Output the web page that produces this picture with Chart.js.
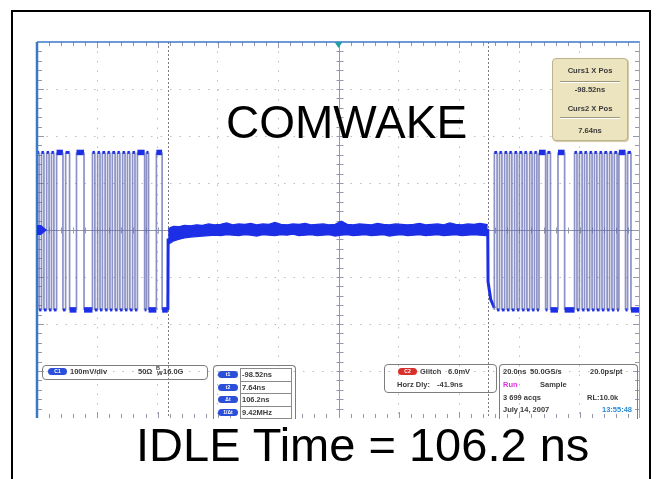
<!DOCTYPE html>
<html>
<head>
<meta charset="utf-8">
<title>COMWAKE</title>
<script src="https://cdn.jsdelivr.net/npm/chart.js@4/dist/chart.umd.min.js"></script>
<style>
  body { margin: 0; background: #fff; }
  #wrap { position: relative; width: 661px; height: 479px; overflow: hidden; font-family: "Liberation Sans", Arial, sans-serif; }
  #scope { position: absolute; left: 0; top: 0; }
  #frame { position: absolute; left: 11px; top: 10px; width: 636px; height: 520px; border: 2px solid #000; }
  .t { position: absolute; white-space: nowrap; font-size: 7.5px; font-weight: bold; line-height: 9px; color: #3a3a3a; }
  .box { position: absolute; border: 1px solid #7d7d7d; border-radius: 4px; }
  .open { border-bottom: none; border-radius: 4px 4px 0 0; }
  .pill { position: absolute; height: 7px; border-radius: 4px; background: #2b4fd8; color: #fff; font-size: 5px; font-weight: bold; line-height: 7px; text-align: center; }
  .cell { position: absolute; left: 240px; width: 52px; background: #fff; border: 1px solid #8a8a8a; box-sizing: border-box; }
  .big { position: absolute; white-space: nowrap; color: #000; line-height: 1; }
  #curs { position: absolute; left: 552px; top: 58px; width: 74px; height: 81px; background: #ece3bf; border: 1px solid #bcb38c; border-radius: 4px; box-shadow: 1px 1px 1px #d0c8a6; }
  #curs .t { left: 0; width: 74px; text-align: center; font-size: 7.6px; }
  .sep { position: absolute; left: 7px; width: 60px; height: 1px; background: #9d967a; border-bottom: 1px solid #fff; }
</style>
</head>
<body>
<div id="wrap">
  <canvas id="scope" width="661" height="479"></canvas>

  <div class="big" style="left:226px; top:99px; font-size:46px;">COMWAKE</div>

  <div id="curs">
    <div class="t" style="top:7px;">Curs1 X Pos</div>
    <div class="sep" style="top:22px;"></div>
    <div class="t" style="top:26px;">-98.52ns</div>
    <div class="t" style="top:45px;">Curs2 X Pos</div>
    <div class="sep" style="top:58px;"></div>
    <div class="t" style="top:67px;">7.64ns</div>
  </div>

  <!-- channel readout -->
  <div class="box" style="left:42px; top:365px; width:164px; height:13px;"></div>
  <div class="pill" style="left:48px; top:368px; width:19px;">C1</div>
  <div class="t" style="left:70px; top:367px;">100mV/div</div>
  <div class="t" style="left:138px; top:367px;">50Ω</div>
  <div class="t" style="left:156px; top:364px; font-size:5.5px;">B</div>
  <div class="t" style="left:157px; top:369px; font-size:6px;">W</div>
  <div class="t" style="left:163px; top:367px;">16.0G</div>

  <!-- cursor readout -->
  <div class="box open" style="left:213px; top:365px; width:81px; height:53px;"></div>
  <div class="cell" style="top:368px; height:14px;"></div>
  <div class="cell" style="top:381px; height:13px;"></div>
  <div class="cell" style="top:393px; height:14px;"></div>
  <div class="cell" style="top:406px; height:13px;"></div>
  <div class="pill" style="left:218px; top:371px; width:20px;">t1</div>
  <div class="pill" style="left:218px; top:384px; width:20px;">t2</div>
  <div class="pill" style="left:218px; top:396px; width:20px;">Δt</div>
  <div class="pill" style="left:218px; top:409px; width:20px;">1/Δt</div>
  <div class="t" style="left:242px; top:370px;">-98.52ns</div>
  <div class="t" style="left:242px; top:383px;">7.64ns</div>
  <div class="t" style="left:242px; top:395px;">106.2ns</div>
  <div class="t" style="left:242px; top:408px;">9.42MHz</div>

  <!-- trigger readout -->
  <div class="box" style="left:384px; top:364px; width:111px; height:27px;"></div>
  <div class="pill" style="left:398px; top:368px; width:19px; background:#d8302c;">C2</div>
  <div class="t" style="left:420px; top:367px;">Glitch</div>
  <div class="t" style="left:448px; top:367px;">6.0mV</div>
  <div class="t" style="left:397px; top:380px;">Horz Dly:</div>
  <div class="t" style="left:437px; top:380px;">-41.9ns</div>

  <!-- timebase readout -->
  <div class="box open" style="left:499px; top:364px; width:137px; height:54px;"></div>
  <div class="t" style="left:503px; top:367px;">20.0ns</div>
  <div class="t" style="left:530px; top:367px;">50.0GS/s</div>
  <div class="t" style="left:590px; top:367px;">20.0ps/pt</div>
  <div class="t" style="left:503px; top:380px; color:#e030e0;">Run</div>
  <div class="t" style="left:540px; top:380px;">Sample</div>
  <div class="t" style="left:503px; top:393px;">3 699 acqs</div>
  <div class="t" style="left:587px; top:393px;">RL:10.0k</div>
  <div class="t" style="left:503px; top:405px;">July 14, 2007</div>
  <div class="t" style="left:602px; top:405px; color:#2a8ad8;">13:55:48</div>

  <div class="big" style="left:136px; top:421px; font-size:47px;">IDLE Time = 106.2 ns</div>
  <div id="frame"></div>
</div>

<script>
// screen: 10 div x 20ns, 8 div x 100mV
var xDivisions = [-141.9, -121.9, -101.9, -81.9, -61.9, -41.9, -21.9, -1.9, 18.1, 38.1, 58.1];
var yDivisions = [-400, -300, -200, -100, 0, 100, 200, 300, 400];
var centerTime = -41.9;
var cursorTimes = [-98.52, 7.64];

// burst levels (mV)
var highLevel = 165;
var lowLevel = -170;

// left burst: starts high at screen edge, edges in ns
var leftStartLevel = 165;
var leftEdges = [-141.2, -140.4, -139.6, -138.7, -137.9, -137.1, -136.3, -135.4,
  -133.3, -132.4, -131.1, -128.8, -126.3,
  -123.5, -122.7, -121.8, -121.0, -120.2, -119.3, -118.5, -117.7, -116.9, -116.0,
  -115.2, -114.4, -113.5, -112.7, -111.9, -111.1, -110.2, -109.4, -108.6,
  -106.2, -105.6, -104.9, -102.3, -100.4];
var leftTailTimes = [-98.5, -98.4];
var leftTailLevels = [-170, -18];

// idle (electrical idle between bursts), noise band
var idleTimes = [-98.4, -97.5, -96.5, -95, -93, -91, -89, -87, -85, -83, -81, -79, -77, -75,
  -73, -71, -69, -67, -65, -63, -61, -59, -57, -55, -53, -51, -49, -47, -45, -43, -41, -39,
  -37, -35, -33, -31, -29, -27, -25, -23, -21, -19, -17, -15, -13, -11, -9, -7, -5, -3, -1,
  1, 3, 5, 7, 7.6];
var idleUpper = [2, 6, 8, 7, 10, 9, 11, 10, 13, 11, 12, 15, 11, 13, 12, 14, 11, 13, 12, 16,
  12, 11, 13, 12, 14, 11, 12, 13, 11, 12, 19, 12, 11, 13, 12, 11, 14, 12, 11, 13,
  12, 11, 12, 14, 11, 12, 13, 11, 15, 12, 11, 13, 12, 14, 12, 11];
var idleLower = [-30, -27, -23, -20, -17, -15, -14, -13, -12, -11, -12, -10, -11, -12, -10,
  -11, -13, -10, -11, -12, -10, -11, -9, -12, -11, -10, -12, -11, -10, -13, -11, -10, -12,
  -11, -10, -12, -11, -10, -13, -11, -10, -12, -11, -10, -12, -11, -10, -12, -11, -10,
  -12, -11, -10, -11, -12, -10];

// right burst: drop out of idle, then edges in ns
var rightLeadTimes = [7.6, 7.7, 8.6, 9.8];
var rightLeadLevels = [2, -110, -148, -166];
var rightEdges = [9.8, 10.7, 11.5, 12.3, 13.2, 14.0, 14.8, 15.6, 16.5, 17.3, 18.1, 19.0,
  19.8, 20.6, 21.5, 22.3, 23.1, 23.9, 24.6,
  26.8, 27.4, 28.4, 30.9, 33.1,
  36.4, 37.2, 38.0, 38.9, 39.7, 40.5, 41.4, 42.2, 43.0, 43.8, 44.7, 45.5, 46.3,
  47.2, 48.0, 48.8, 49.6, 50.5, 51.1,
  53.3, 54.0, 55.1];
var rightEnd = 58.1;

var traceBlue = '#1c2fe6';
var edgeColor = 'rgba(96,104,176,0.72)';

function buildSteps(pts, level, edges) {
  for (var i = 0; i < edges.length; i++) {
    var next = level > 0 ? lowLevel : highLevel;
    pts.push({x: edges[i], y: level});
    pts.push({x: edges[i], y: next});
    level = next;
  }
  return level;
}

var leftPts = [{x: xDivisions[0], y: leftStartLevel}];
buildSteps(leftPts, leftStartLevel, leftEdges);
for (var i = 0; i < leftTailTimes.length; i++) leftPts.push({x: leftTailTimes[i], y: leftTailLevels[i]});

var rightPts = [];
for (var i = 0; i < rightLeadTimes.length; i++) rightPts.push({x: rightLeadTimes[i], y: rightLeadLevels[i]});
var rv = buildSteps(rightPts, lowLevel, rightEdges);
rightPts.push({x: rightEnd, y: rv});

var upperPts = idleTimes.map(function(t, i) { return {x: t, y: idleUpper[i]}; });
var lowerPts = idleTimes.map(function(t, i) { return {x: t, y: idleLower[i]}; });

var burstSegment = {
  borderColor: function(c) { return c.p0.parsed.x === c.p1.parsed.x ? edgeColor : traceBlue; },
  borderWidth: function(c) {
    var dx = c.p1.parsed.x - c.p0.parsed.x;
    if (dx === 0) return 1.7;
    return dx > 1.5 ? 5.5 : 3;
  }
};

var scopeFrame = {
  id: 'scopeFrame',
  beforeDatasetsDraw: function(chart) {
    var ctx = chart.ctx, a = chart.chartArea, x = chart.scales.x, y = chart.scales.y;
    var cx = Math.round(x.getPixelForValue(centerTime)) + 0.5;
    var cy = Math.round(y.getPixelForValue(0)) + 0.5;
    ctx.save();
    ctx.strokeStyle = '#9498aa';
    ctx.lineWidth = 1;
    ctx.beginPath();
    ctx.moveTo(a.left, cy); ctx.lineTo(a.right, cy);
    ctx.moveTo(cx, a.top); ctx.lineTo(cx, a.bottom);
    var dx = a.width / 50, dy = a.height / 40;
    for (var i = 1; i < 50; i++) {
      var px = Math.round(a.left + i * dx) + 0.5;
      var len = i % 5 === 0 ? 6 : 4;
      ctx.moveTo(px, cy - 3); ctx.lineTo(px, cy + 3);
      ctx.moveTo(px, a.top); ctx.lineTo(px, a.top + len);
      ctx.moveTo(px, a.bottom); ctx.lineTo(px, a.bottom - len);
    }
    for (var j = 1; j < 40; j++) {
      var py = Math.round(a.top + j * dy) + 0.5;
      var l2 = j % 5 === 0 ? 7 : 5;
      ctx.moveTo(cx - 3, py); ctx.lineTo(cx + 4, py);
      ctx.moveTo(a.left, py); ctx.lineTo(a.left + l2, py);
      ctx.moveTo(a.right, py); ctx.lineTo(a.right - l2, py);
    }
    ctx.stroke();
    ctx.setLineDash([2, 2]);
    ctx.strokeStyle = '#7c7c7c';
    cursorTimes.forEach(function(t) {
      var p = Math.round(x.getPixelForValue(t)) + 0.5;
      ctx.beginPath(); ctx.moveTo(p, a.top); ctx.lineTo(p, a.bottom); ctx.stroke();
    });
    ctx.restore();
  },
  afterDatasetsDraw: function(chart) {
    var ctx = chart.ctx, a = chart.chartArea, x = chart.scales.x, y = chart.scales.y;
    var cx = x.getPixelForValue(centerTime), cy = y.getPixelForValue(0);
    ctx.save();
    ctx.strokeStyle = '#3a78c8';
    ctx.lineWidth = 1.5;
    ctx.beginPath(); ctx.moveTo(a.left, a.top); ctx.lineTo(a.right, a.top); ctx.stroke();
    ctx.lineWidth = 2.5;
    ctx.beginPath(); ctx.moveTo(a.left, a.top); ctx.lineTo(a.left, a.bottom); ctx.stroke();
    ctx.strokeStyle = '#7fb0e0';
    ctx.lineWidth = 1;
    ctx.beginPath(); ctx.moveTo(a.right - 0.5, a.top); ctx.lineTo(a.right - 0.5, a.bottom); ctx.stroke();
    // channel marker
    ctx.fillStyle = traceBlue;
    ctx.beginPath();
    ctx.moveTo(a.left, cy - 5); ctx.lineTo(a.left + 4, cy - 5); ctx.lineTo(a.left + 10, cy);
    ctx.lineTo(a.left + 4, cy + 5); ctx.lineTo(a.left, cy + 5); ctx.closePath(); ctx.fill();
    // trigger position marker
    ctx.fillStyle = '#1f9ea6';
    ctx.beginPath();
    ctx.moveTo(cx - 4, a.top); ctx.lineTo(cx + 4, a.top); ctx.lineTo(cx, a.top + 6); ctx.closePath(); ctx.fill();
    ctx.restore();
  }
};

function gridColor(c) {
  var last = c.scale.ticks.length - 1;
  if (c.index === 0 || c.index === last) return 'transparent';
  if (c.tick && (c.tick.value === centerTime || c.tick.value === 0)) return 'transparent';
  return '#bdbdbd';
}

var ctx = document.getElementById('scope');
var scopeChart = new Chart(ctx, {
  type: 'line',
  data: {
    datasets: [
      { data: upperPts, borderColor: traceBlue, backgroundColor: traceBlue, borderWidth: 1.2, fill: '+1', pointRadius: 0 },
      { data: lowerPts, borderColor: traceBlue, borderWidth: 1.2, fill: false, pointRadius: 0 },
      { data: leftPts, borderColor: traceBlue, borderWidth: 1, fill: false, pointRadius: 0, segment: burstSegment },
      { data: rightPts, borderColor: traceBlue, borderWidth: 1, fill: false, pointRadius: 0, segment: burstSegment }
    ]
  },
  options: {
    responsive: false,
    animation: false,
    events: [],
    layout: { padding: { left: 37, right: 21, top: 42, bottom: 61 } },
    plugins: { legend: { display: false }, tooltip: { enabled: false } },
    elements: { line: { tension: 0, borderJoinStyle: 'miter' }, point: { radius: 0 } },
    scales: {
      x: {
        type: 'linear', min: xDivisions[0], max: xDivisions[xDivisions.length - 1],
        afterBuildTicks: function(axis) { axis.ticks = xDivisions.map(function(v) { return {value: v}; }); },
        ticks: { display: false },
        grid: { drawTicks: false, color: gridColor, lineWidth: 1 },
        border: { display: false, dash: [1.5, 8] }
      },
      y: {
        type: 'linear', min: yDivisions[0], max: yDivisions[yDivisions.length - 1],
        afterBuildTicks: function(axis) { axis.ticks = yDivisions.map(function(v) { return {value: v}; }); },
        ticks: { display: false },
        grid: { drawTicks: false, color: gridColor, lineWidth: 1 },
        border: { display: false, dash: [1.5, 8] }
      }
    }
  },
  plugins: [scopeFrame]
});
</script>
</body>
</html>
